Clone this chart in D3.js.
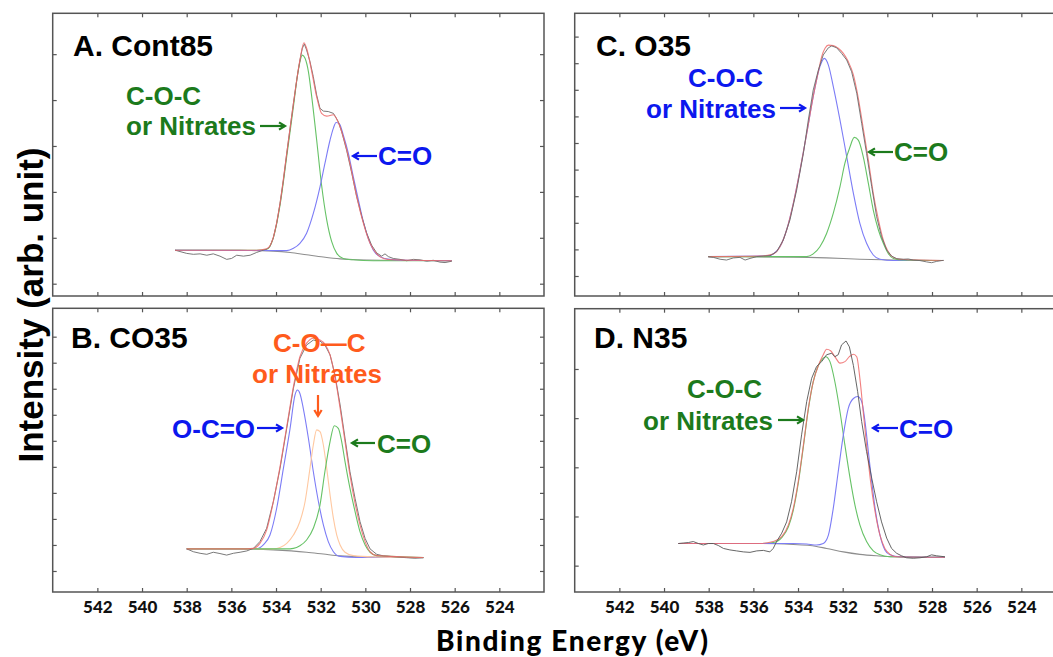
<!DOCTYPE html>
<html>
<head>
<meta charset="utf-8">
<script src="https://cdnjs.cloudflare.com/ajax/libs/d3/7.8.5/d3.min.js"></script>
<style>
  body { margin: 0; background: #fff; }
  svg { display: block; }
</style>
</head>
<body>
<div id="chart"></div>
<script>
var width = 1053;
var height = 657;

// binding energy ticks (eV), same on every panel
var xTicks = [542, 540, 538, 536, 534, 532, 530, 528, 526, 524];

// ---- A. Cont85 : [eV, intensity] ----
var aRaw = [[538.52,0.73],[538.30,0.70],[538.00,0.66],[537.70,0.64],[537.40,0.65],[537.10,0.62],[536.81,0.65],[536.51,0.60],[536.21,0.53],[535.99,0.55],[535.76,0.62],[535.46,0.60],[535.16,0.62],[534.87,0.68],[534.64,0.72],[534.42,0.75],[534.27,0.81],[534.12,1.00],[533.97,1.32],[533.82,1.75],[533.67,2.26],[533.52,2.84],[533.37,3.39],[533.22,3.93],[533.07,4.44],[532.93,4.87],[532.82,5.13],[532.73,5.22],[532.63,5.09],[532.48,4.84],[532.33,4.51],[532.18,4.11],[532.03,3.82],[531.88,3.76],[531.66,3.75],[531.43,3.71],[531.21,3.53],[531.06,3.31],[530.84,2.91],[530.61,2.41],[530.39,1.90],[530.16,1.46],[529.94,1.10],[529.72,0.84],[529.49,0.67],[529.27,0.60],[529.12,0.65],[528.97,0.59],[528.75,0.55],[528.45,0.53],[528.15,0.50],[527.85,0.53],[527.55,0.52],[527.25,0.49],[526.96,0.51],[526.66,0.47],[526.43,0.46],[526.13,0.49]];
var aFit = [[538.52,0.73],[537.10,0.73],[535.61,0.73],[534.87,0.73],[534.42,0.76],[534.12,1.01],[533.82,1.75],[533.52,2.84],[533.22,3.93],[532.93,4.87],[532.75,5.25],[532.63,5.13],[532.40,4.62],[532.18,4.07],[531.96,3.71],[531.73,3.65],[531.43,3.68],[531.21,3.51],[530.99,3.20],[530.69,2.62],[530.39,1.90],[530.09,1.32],[529.79,0.88],[529.49,0.65],[529.19,0.55],[528.75,0.52],[526.13,0.50]];
var aCOC = [[538.52,0.73],[534.87,0.73],[534.42,0.75],[534.12,1.00],[533.82,1.71],[533.52,2.77],[533.22,3.86],[533.00,4.66],[532.82,4.98],[532.70,4.91],[532.55,4.62],[532.40,4.07],[532.18,3.13],[531.96,2.15],[531.73,1.39],[531.51,0.92],[531.28,0.66],[530.99,0.55],[530.54,0.52],[529.64,0.50],[526.13,0.50]];
var aCO = [[538.52,0.73],[533.52,0.72],[533.22,0.77],[532.93,0.88],[532.63,1.10],[532.33,1.53],[532.03,2.11],[531.81,2.62],[531.58,3.13],[531.43,3.39],[531.31,3.51],[531.16,3.48],[530.99,3.24],[530.76,2.84],[530.54,2.33],[530.31,1.82],[530.09,1.35],[529.87,0.99],[529.64,0.73],[529.34,0.59],[528.90,0.53],[528.15,0.51],[526.13,0.50]];
var aBg = [[538.52,0.73],[535.61,0.73],[534.87,0.72],[534.12,0.71],[533.37,0.68],[532.63,0.63],[531.88,0.58],[531.13,0.54],[530.39,0.52],[528.90,0.51],[526.13,0.50]];

// ---- B. CO35 ----
var bRaw = [[538.00,0.85],[537.70,0.74],[537.40,0.68],[537.10,0.64],[536.81,0.72],[536.51,0.67],[536.21,0.61],[535.91,0.68],[535.61,0.72],[535.31,0.77],[535.01,0.87],[534.72,1.13],[534.42,1.64],[534.12,2.66],[533.82,3.94],[533.52,5.48],[533.22,7.02],[532.93,8.17],[532.63,8.68],[532.33,8.87],[532.03,8.83],[531.81,8.68],[531.58,8.30],[531.36,7.53],[531.13,6.38],[530.91,5.10],[530.69,3.82],[530.46,2.79],[530.24,1.90],[530.01,1.25],[529.79,0.85],[529.49,0.64],[529.19,0.58],[528.75,0.55],[528.15,0.51],[527.78,0.49],[527.40,0.51]];
var bFit = [[538.00,0.85],[535.61,0.85],[535.01,0.87],[534.72,1.06],[534.42,1.57],[534.12,2.66],[533.82,4.01],[533.52,5.54],[533.22,7.08],[532.93,8.23],[532.63,8.75],[532.33,8.94],[532.03,8.87],[531.81,8.71],[531.58,8.30],[531.36,7.46],[531.13,6.25],[530.91,4.97],[530.69,3.69],[530.46,2.60],[530.24,1.77],[530.01,1.13],[529.79,0.74],[529.49,0.59],[527.40,0.52]];
var bOCO = [[538.00,0.85],[534.87,0.85],[534.57,1.00],[534.27,1.38],[533.97,2.41],[533.67,3.94],[533.37,5.48],[533.15,6.76],[533.04,6.95],[532.93,6.82],[532.78,6.25],[532.55,5.10],[532.33,3.82],[532.10,2.66],[531.88,1.77],[531.66,1.13],[531.43,0.74],[531.13,0.56],[530.39,0.52],[527.40,0.52]];
var bCOC = [[538.00,0.85],[534.12,0.85],[533.82,0.90],[533.52,1.06],[533.22,1.38],[532.93,1.90],[532.70,2.66],[532.48,3.94],[532.33,4.84],[532.18,5.42],[532.03,5.35],[531.88,4.84],[531.73,3.94],[531.58,2.92],[531.43,2.02],[531.28,1.38],[531.13,1.00],[530.91,0.72],[530.54,0.59],[529.64,0.54],[527.40,0.52]];
var bCO = [[538.00,0.85],[533.52,0.85],[533.22,0.87],[532.93,0.97],[532.63,1.19],[532.33,1.64],[532.03,2.54],[531.81,3.82],[531.58,4.97],[531.39,5.58],[531.21,5.48],[531.06,4.97],[530.91,4.20],[530.69,3.18],[530.46,2.28],[530.24,1.51],[530.01,1.00],[529.79,0.72],[529.49,0.59],[527.40,0.52]];
var bBg = [[538.00,0.85],[535.61,0.85],[534.12,0.81],[532.63,0.72],[531.88,0.65],[531.13,0.58],[529.64,0.54],[527.40,0.51]];

// ---- C. O35 ----
var cRaw = [[538.02,0.73],[537.79,0.70],[537.49,0.63],[537.20,0.60],[536.90,0.68],[536.60,0.70],[536.37,0.60],[536.15,0.66],[535.85,0.73],[535.55,0.75],[535.26,0.76],[534.96,0.91],[534.66,1.35],[534.36,2.11],[534.06,3.23],[533.76,4.61],[533.54,5.86],[533.32,6.99],[533.09,7.74],[532.87,8.31],[532.64,8.58],[532.49,8.65],[532.27,8.58],[532.05,8.37],[531.82,8.12],[531.60,7.68],[531.37,6.87],[531.15,5.74],[530.93,4.61],[530.70,3.36],[530.48,2.23],[530.26,1.48],[530.03,0.98],[529.81,0.75],[529.58,0.65],[529.29,0.63],[529.06,0.64],[528.84,0.60],[528.54,0.58],[528.24,0.53],[528.02,0.50],[527.79,0.55],[527.49,0.59]];
var cFit = [[538.02,0.73],[535.70,0.75],[535.11,0.83],[534.81,1.10],[534.51,1.73],[534.21,2.73],[533.91,3.98],[533.61,5.36],[533.32,6.74],[533.09,7.68],[532.94,8.25],[532.79,8.56],[532.64,8.68],[532.42,8.66],[532.20,8.56],[531.97,8.37],[531.75,8.06],[531.52,7.56],[531.30,6.68],[531.08,5.55],[530.85,4.36],[530.63,3.11],[530.40,2.11],[530.18,1.35],[529.96,0.91],[529.73,0.70],[529.43,0.63],[527.49,0.58]];
var cCOC = [[538.02,0.73],[535.40,0.75],[535.11,0.83],[534.81,1.10],[534.51,1.73],[534.21,2.73],[533.91,3.98],[533.61,5.36],[533.32,6.74],[533.02,7.87],[532.82,8.18],[532.64,7.93],[532.42,7.12],[532.12,5.86],[531.82,4.49],[531.52,3.11],[531.23,1.98],[530.93,1.23],[530.63,0.79],[530.33,0.63],[529.73,0.58],[527.49,0.58]];
var cCO = [[538.02,0.73],[533.61,0.73],[533.32,0.83],[533.02,1.10],[532.72,1.60],[532.42,2.36],[532.12,3.36],[531.90,4.24],[531.67,4.86],[531.48,5.21],[531.30,5.11],[531.08,4.49],[530.85,3.48],[530.63,2.48],[530.40,1.73],[530.18,1.23],[529.96,0.85],[529.73,0.66],[529.29,0.60],[527.49,0.58]];
var cBg = [[538.02,0.73],[534.21,0.71],[532.72,0.68],[531.23,0.63],[529.73,0.60],[527.49,0.58]];

// ---- D. N35 ----
var dRaw = [[539.36,0.45],[539.14,0.46],[538.91,0.47],[538.69,0.49],[538.46,0.45],[538.24,0.42],[538.02,0.45],[537.79,0.45],[537.57,0.41],[537.34,0.35],[537.05,0.32],[536.75,0.30],[536.45,0.28],[536.15,0.27],[535.85,0.30],[535.55,0.31],[535.26,0.28],[535.11,0.35],[534.96,0.49],[534.73,0.66],[534.51,0.89],[534.29,1.30],[534.06,1.91],[533.84,2.66],[533.61,3.34],[533.39,3.81],[533.17,4.05],[532.94,4.15],[532.72,4.29],[532.49,4.32],[532.35,4.25],[532.20,4.29],[532.05,4.49],[531.85,4.57],[531.70,4.45],[531.52,4.07],[531.33,3.54],[531.15,2.93],[530.93,2.32],[530.70,1.78],[530.48,1.30],[530.26,0.89],[530.03,0.56],[529.81,0.35],[529.58,0.25],[529.36,0.20],[529.14,0.16],[528.84,0.15],[528.54,0.16],[528.24,0.18],[528.02,0.22],[527.79,0.20],[527.42,0.18]];
var dFit = [[539.36,0.45],[535.70,0.45],[535.11,0.49],[534.73,0.59],[534.43,0.83],[534.21,1.17],[533.99,1.71],[533.76,2.45],[533.54,3.20],[533.32,3.74],[533.09,4.07],[532.87,4.29],[532.72,4.40],[532.54,4.37],[532.35,4.25],[532.12,4.12],[531.90,4.15],[531.70,4.25],[531.52,4.30],[531.37,4.25],[531.23,3.81],[531.08,3.13],[530.93,2.45],[530.75,1.71],[530.55,1.10],[530.33,0.62],[530.11,0.35],[529.88,0.23],[529.58,0.18],[527.42,0.17]];
var dCOC = [[539.36,0.45],[535.70,0.45],[535.11,0.47],[534.73,0.57],[534.43,0.79],[534.21,1.13],[533.99,1.67],[533.76,2.42],[533.54,3.17],[533.32,3.74],[533.09,4.07],[532.87,4.22],[532.76,4.25],[532.57,4.15],[532.35,3.74],[532.12,3.13],[531.90,2.45],[531.67,1.78],[531.45,1.23],[531.23,0.83],[530.93,0.49],[530.63,0.30],[530.33,0.22],[529.88,0.18],[527.42,0.17]];
var dCO = [[539.36,0.45],[534.21,0.45],[533.61,0.44],[533.17,0.42],[532.87,0.45],[532.64,0.62],[532.42,1.17],[532.20,1.91],[531.97,2.66],[531.75,3.20],[531.52,3.40],[531.33,3.44],[531.15,3.34],[531.00,2.93],[530.85,2.32],[530.70,1.71],[530.55,1.17],[530.33,0.62],[530.11,0.32],[529.88,0.22],[529.43,0.18],[527.42,0.17]];
var dBg = [[539.36,0.45],[535.70,0.45],[534.21,0.43],[533.46,0.41],[532.72,0.35],[531.97,0.28],[531.23,0.23],[530.48,0.20],[529.73,0.18],[527.42,0.17]];

var green = "#66c266", blue = "#7c7cf6", orange = "#ffc8a0", red = "#ee6a6a", rawCol = "#6a6a6a", bgCol = "#8e8e8e";
var tGreen = "#1c7a1c", tBlue = "#0c18ee", tOrange = "#ff5b1c";

// curves are listed in drawing order; the raw spectrum is the one flagged "raw"
var panels = [
  { title: "A. Cont85", box: [52.7, 13.3, 491.3, 282.7], yDomain: [-0.268, 5.89], yTicks: [0,1,2,3,4,5], labels: false,
    titlePos: [73, 56],
    curves: [[aBg, bgCol], [aCOC, green], [aCO, blue], [aRaw, rawCol, "raw"], [aFit, red]],
    notes: [["C-O-C", 126, 105, tGreen], ["or Nitrates", 126, 135, tGreen], ["C=O", 378, 165, tBlue]],
    arrows: [[260, 126, 285, 126, tGreen], [377, 156, 353, 156, tBlue]] },
  { title: "C. O35", box: [574.7, 13.3, 491.3, 282.7], yDomain: [-0.752, 9.876], yTicks: [0,1,2,3,4,5,6,7,8,9], labels: false,
    titlePos: [596, 56],
    curves: [[cBg, bgCol], [cCOC, blue], [cCO, green], [cFit, red], [cRaw, rawCol, "raw"]],
    notes: [["C-O-C", 688, 87, tBlue], ["or Nitrates", 646, 118, tBlue], ["C=O", 894, 161, tGreen]],
    arrows: [[780, 108, 805, 108, tBlue], [893, 152, 869, 152, tGreen]] },
  { title: "B. CO35", box: [52.7, 308.3, 491.3, 283.7], yDomain: [-0.807, 10.09], yTicks: [0,1,2,3,4,5,6,7,8,9], labels: true,
    titlePos: [71, 348],
    curves: [[bBg, bgCol], [bOCO, blue], [bCOC, orange], [bCO, green], [bRaw, rawCol, "raw"], [bFit, red]],
    notes: [["C-O\u2014C", 273, 352, tOrange], ["or Nitrates", 252, 383, tOrange], ["O-C=O", 172, 438, tBlue], ["C=O", 377, 453, tGreen]],
    arrows: [[318, 395, 318, 416, tOrange], [257, 428, 282, 428, tBlue], [375, 443, 352, 443, tGreen]] },
  { title: "D. N35", box: [574.7, 308.7, 491.3, 283.3], yDomain: [-0.536, 5.226], yTicks: [0,1,2,3,4], labels: true,
    titlePos: [594, 348],
    curves: [[dBg, bgCol], [dCOC, green], [dCO, blue], [dFit, red], [dRaw, "#555", "raw"]],
    notes: [["C-O-C", 687, 398, tGreen], ["or Nitrates", 643, 430, tGreen], ["C=O", 899, 438, tBlue]],
    arrows: [[778, 420, 803, 420, tGreen], [898, 428, 873, 428, tBlue]] }
];

var svg = d3.select("#chart").append("svg").attr("width", width).attr("height", height);
svg.append("rect").attr("width", width).attr("height", height).attr("fill", "#fff");

var drawArrow = function (g, a) {
  var x1 = a[0], y1 = a[1], x2 = a[2], y2 = a[3];
  var ang = Math.atan2(y2 - y1, x2 - x1), hl = 7, hw = 0.55;
  g.append("line").attr("x1", x1).attr("y1", y1).attr("x2", x2).attr("y2", y2)
    .attr("stroke", a[4]).attr("stroke-width", 2.2);
  g.append("path")
    .attr("d", "M" + (x2 - hl * Math.cos(ang - hw)) + "," + (y2 - hl * Math.sin(ang - hw)) +
      "L" + x2 + "," + y2 + "L" + (x2 - hl * Math.cos(ang + hw)) + "," + (y2 - hl * Math.sin(ang + hw)))
    .attr("fill", "none").attr("stroke", a[4]).attr("stroke-width", 2.2);
};

panels.forEach(function (p) {
  var bx = p.box[0], by = p.box[1], bw = p.box[2], bh = p.box[3];
  var x = d3.scaleLinear().domain([544, 522]).range([bx, bx + bw]);
  var y = d3.scaleLinear().domain(p.yDomain).range([by + bh, by]);
  var g = svg.append("g");

  var line = d3.line().x(function (d) { return x(d[0]); }).y(function (d) { return y(d[1]); });

  p.curves.forEach(function (c) {
    var isRaw = c[2] === "raw";
    g.append("path").datum(c[0])
      .attr("d", line.curve(isRaw ? d3.curveLinear : d3.curveMonotoneX))
      .attr("fill", "none").attr("stroke", c[1])
      .attr("stroke-opacity", isRaw ? 0.9 : (c[1] === red ? 0.85 : 1))
      .attr("stroke-width", isRaw ? 1 : 1.1).attr("stroke-linejoin", "round");
  });

  var strip = function (ag) { ag.select(".domain").remove(); ag.selectAll("line").attr("stroke", "#555").attr("stroke-width", 1.2); };
  var fmt = p.labels ? d3.format("d") : function () { return ""; };

  g.append("g").attr("transform", "translate(0," + (by + bh) + ")")
    .call(d3.axisBottom(x).tickValues(xTicks).tickSize(-4).tickPadding(9).tickFormat(fmt))
    .call(strip)
    .selectAll("text").attr("fill", "#111").style("font-family", "Lato, 'Open Sans', sans-serif")
    .style("font-weight", "900").style("font-size", "17px");
  g.append("g").attr("transform", "translate(0," + by + ")")
    .call(d3.axisTop(x).tickValues(xTicks).tickSize(-4).tickFormat("")).call(strip);
  g.append("g").attr("transform", "translate(" + bx + ",0)")
    .call(d3.axisLeft(y).tickValues(p.yTicks).tickSize(-4).tickFormat("")).call(strip);
  g.append("g").attr("transform", "translate(" + (bx + bw) + ",0)")
    .call(d3.axisRight(y).tickValues(p.yTicks).tickSize(-4).tickFormat("")).call(strip);

  g.append("rect").attr("x", bx).attr("y", by).attr("width", bw).attr("height", bh)
    .attr("fill", "none").attr("stroke", "#555").attr("stroke-width", 1.5);

  g.append("text").attr("x", p.titlePos[0]).attr("y", p.titlePos[1]).text(p.title)
    .style("font-family", "'Liberation Sans', Arial, sans-serif").style("font-weight", "bold")
    .style("font-size", "30px").attr("fill", "#000");

  p.notes.forEach(function (n) {
    g.append("text").attr("x", n[1]).attr("y", n[2]).text(n[0])
      .style("font-family", "'Liberation Sans', Arial, sans-serif").style("font-weight", "bold")
      .style("font-size", "26px").attr("fill", n[3]);
  });
  p.arrows.forEach(function (a) { drawArrow(g, a); });
});

svg.append("text").attr("transform", "translate(43,305) rotate(-90)")
  .attr("text-anchor", "middle").text("Intensity (arb. unit)")
  .style("font-family", "'Liberation Sans', Arial, sans-serif").style("font-weight", "bold")
  .style("font-size", "35px").attr("fill", "#000");

svg.append("text").attr("x", 572).attr("y", 651).attr("text-anchor", "middle")
  .attr("textLength", 272).attr("lengthAdjust", "spacing")
  .text("Binding Energy (eV)")
  .style("font-family", "Lato, 'Open Sans', sans-serif").style("font-weight", "900")
  .style("font-size", "28px").attr("fill", "#000");
</script>
</body>
</html>
